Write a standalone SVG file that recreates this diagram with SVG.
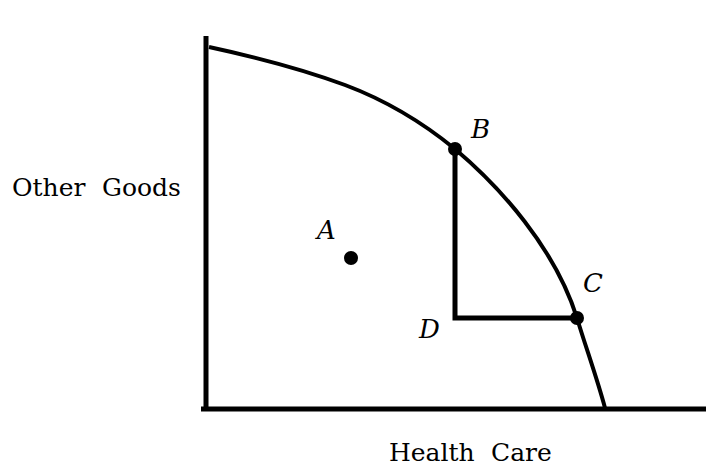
<svg xmlns="http://www.w3.org/2000/svg" width="706" height="466" viewBox="0 0 706 466">
<style>
.ln{fill:none;stroke:#000;stroke-width:5}
.cv{fill:none;stroke:#000;stroke-width:4}
.dot{fill:#000}
.lab{font-family:"DejaVu Serif",serif;font-size:25px;fill:#000}
.it{font-style:italic;font-size:26px}
</style>
<rect width="706" height="466" fill="#fff"/>
<g id="axes">
<line class="ln" x1="206" y1="36" x2="206" y2="411"/>
<line class="ln" x1="201" y1="409" x2="706" y2="409"/>
</g>
<g id="connectors">
<path id="ppf" class="cv" d="M209,47 C260,58 310,72 345,85 C385,100 422,122 455,149 C500,187 555,248 577,318 C585,345 597,378 605,408"/>
<polyline class="ln" points="455,149 455,318 577,318"/>
</g>
<g id="pointA"><circle class="dot" cx="351" cy="258" r="7"/><text class="lab it" x="317" y="239">A</text></g>
<g id="pointB"><circle class="dot" cx="455" cy="149" r="7"/><text class="lab it" x="471" y="138">B</text></g>
<g id="pointC"><circle class="dot" cx="577" cy="318" r="7"/><text class="lab it" x="583" y="292">C</text></g>
<g id="pointD"><text class="lab it" x="419" y="338">D</text></g>
<g id="ylabel"><text class="lab" y="196"><tspan x="12">Other</tspan><tspan x="102">Goods</tspan></text></g>
<g id="xlabel"><text class="lab" y="461"><tspan x="389">Health</tspan><tspan x="491">Care</tspan></text></g>
</svg>
